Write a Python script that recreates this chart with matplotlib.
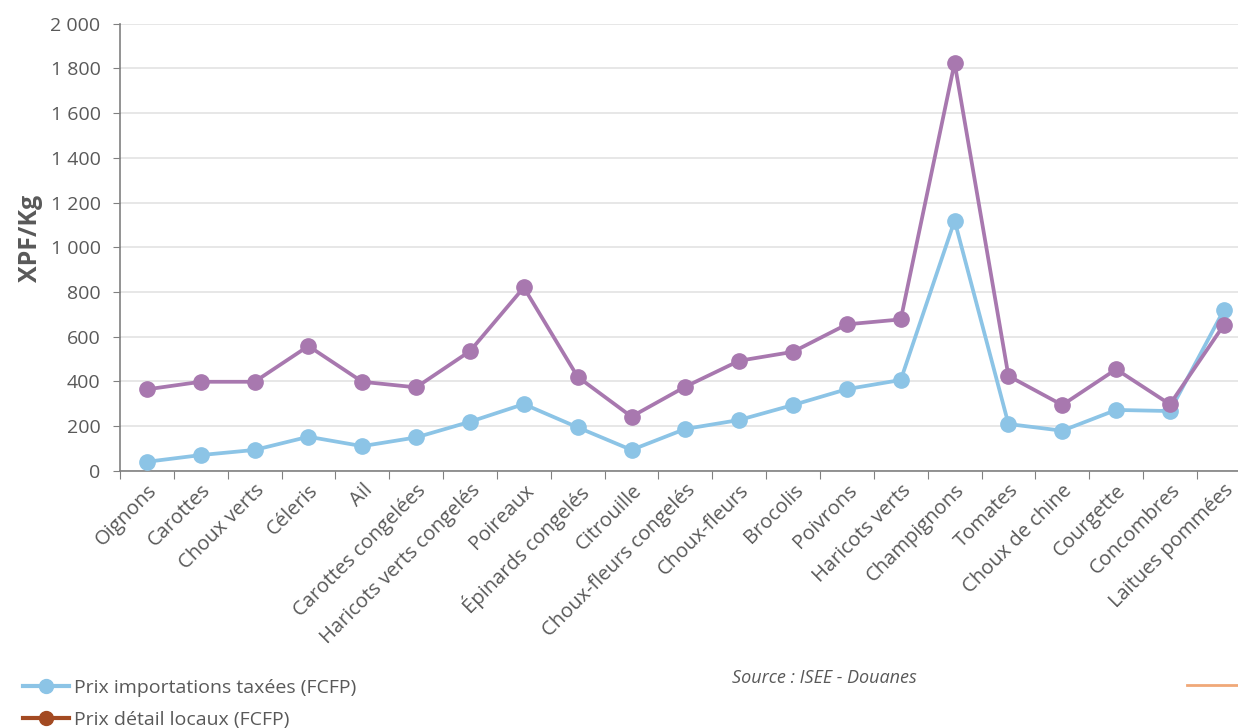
import matplotlib

matplotlib.use("Agg")

import matplotlib.pyplot as plt
from matplotlib.lines import Line2D
from matplotlib.ticker import FuncFormatter, FixedLocator

# ---------------------------------------------------------------------------
#  data
# ---------------------------------------------------------------------------
produits = [
    "Oignons", "Carottes", "Choux verts", "Céleris", "Ail",
    "Carottes congelées", "Haricots verts congelés", "Poireaux",
    "Épinards congelés", "Citrouille", "Choux-fleurs congelés",
    "Choux-fleurs", "Brocolis", "Poivrons", "Haricots verts",
    "Champignons", "Tomates", "Choux de chine", "Courgette",
    "Concombres", "Laitues pommées",
]
prix_import = [40, 70, 93, 152, 110, 149, 219, 298, 194, 93, 187,
               227, 294, 365, 406, 1119, 209, 179, 272, 267, 719]
prix_local = [364, 398, 398, 558, 398, 373, 535, 820, 420, 242, 376,
              492, 532, 655, 677, 1825, 424, 294, 454, 297, 652]

BLUE = "#8CC4E6"
PURPLE = "#A878AF"
BROWN = "#A34A22"
TXT = "#595959"

plt.rcParams["font.family"] = ["Open Sans", "DejaVu Sans"]

fig = plt.figure(figsize=(12.38, 7.28), dpi=100)
ax = fig.add_axes([0.0969, 0.3534, 0.9134, 0.614])

x = list(range(len(produits)))
ax.plot(x, prix_import, color=BLUE, lw=2.7, marker="o", ms=11, zorder=3)
ax.plot(x, prix_local, color=PURPLE, lw=2.7, marker="o", ms=11, zorder=3)

ax.set_xlim(-0.5, len(produits) - 0.5)
ax.set_ylim(0, 2000)
ax.set_yticks(range(0, 2001, 200))
ax.yaxis.set_major_formatter(FuncFormatter(lambda v, p: f"{int(v):,}".replace(",", " ")))
ax.grid(axis="y", color="#E3E3E3", lw=1.2)
ax.set_axisbelow(True)

# category labels centred on points, ticks on category boundaries
ax.xaxis.set_major_locator(FixedLocator([i - 0.5 for i in range(len(produits) + 1)]))
ax.set_xticklabels([])
ax.xaxis.set_minor_locator(FixedLocator(x))
ax.set_xticklabels(produits, minor=True, rotation=45, ha="right",
                   rotation_mode="anchor", fontsize=14.5, color=TXT)
ax.tick_params(axis="x", which="minor", length=0, pad=7)
ax.tick_params(axis="x", which="major", length=6, color="#808080")
ax.tick_params(axis="y", length=5, color="#808080", labelsize=14, labelcolor=TXT, pad=9)

for s in ("top", "right"):
    ax.spines[s].set_visible(False)
for s in ("left", "bottom"):
    ax.spines[s].set_color("#808080")
    ax.spines[s].set_linewidth(1.2)

ax.set_ylabel("XPF/Kg", fontsize=18, fontweight="bold", color=TXT)
ax.yaxis.set_label_coords(-0.068, 0.52)

# legend (second entry keeps the brown swatch of the original)
handles = [
    Line2D([], [], color=BLUE, lw=3, marker="o", ms=10),
    Line2D([], [], color=BROWN, lw=3, marker="o", ms=10),
]
fig.legend(handles, ["Prix importations taxées (FCFP)", "Prix détail locaux (FCFP)"],
           loc="upper left", bbox_to_anchor=(0.012, 0.078), frameon=False,
           fontsize=14, labelcolor=TXT, handlelength=2.4, handletextpad=0.25,
           labelspacing=0.7, borderaxespad=0)

fig.text(0.591, 0.068, "Source : ISEE - Douanes", fontsize=13, style="italic",
         color=TXT, ha="left", va="center")
fig.add_artist(Line2D([0.959, 1.0], [0.059, 0.059], color="#F0A878", lw=2,
                      transform=fig.transFigure))

fig.savefig("out.png", dpi=100)
